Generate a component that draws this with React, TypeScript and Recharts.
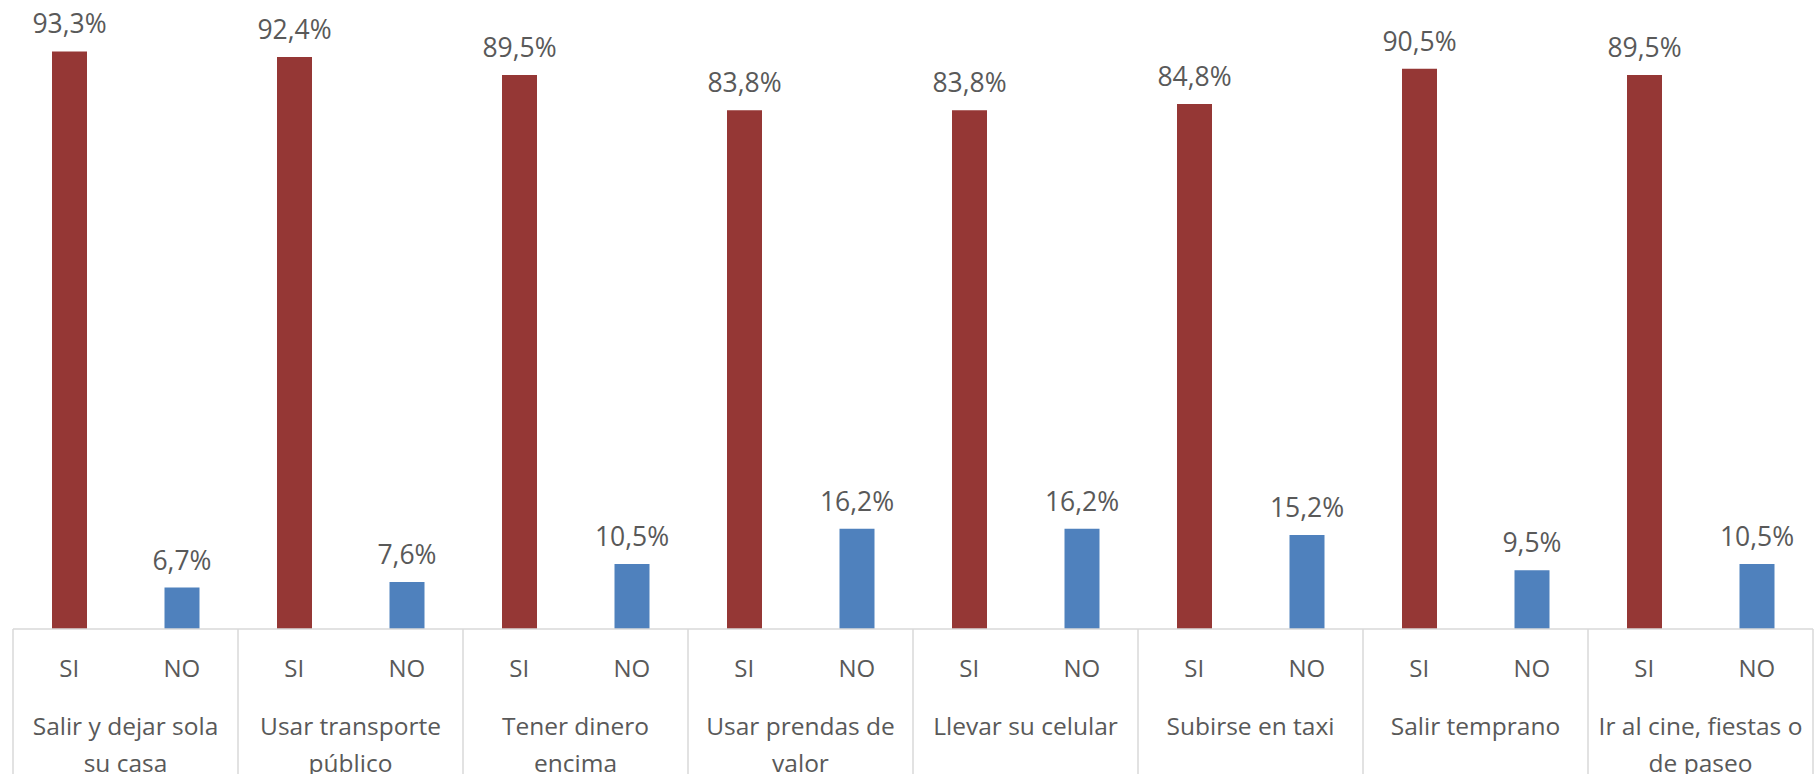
import { Bar, BarChart, Cell, LabelList, XAxis, YAxis } from "recharts"

const groups = [
  "Salir y dejar sola su casa",
  "Usar transporte público",
  "Tener dinero encima",
  "Usar prendas de valor",
  "Llevar su celular",
  "Subirse en taxi",
  "Salir temprano",
  "Ir al cine, fiestas o de paseo",
]
const groupLines = [
  ["Salir y dejar sola", "su casa"],
  ["Usar transporte", "público"],
  ["Tener dinero", "encima"],
  ["Usar prendas de", "valor"],
  ["Llevar su celular"],
  ["Subirse en taxi"],
  ["Salir temprano"],
  ["Ir al cine, fiestas o", "de paseo"],
]
const answers = ["SI", "NO"]
const siValues = [93.3, 92.4, 89.5, 83.8, 83.8, 84.8, 90.5, 89.5]
const noValues = [6.7, 7.6, 10.5, 16.2, 16.2, 15.2, 9.5, 10.5]

const COLORS: Record<string, string> = { SI: "#953735", NO: "#4F81BD" }
const TEXT = "#595959"
const GRID = "#D9D9D9"
const FONT = "'Open Sans', sans-serif"

const W = 1820
const H = 774
const MARGIN = { top: 10, right: 7, left: 13, bottom: 0 }
const AXIS_H = 145
const PLOT_W = W - MARGIN.left - MARGIN.right

const data = groups.flatMap((g, i) =>
  answers.map((a) => ({
    key: `${i}-${a}`,
    group: g,
    answer: a,
    value: a === "SI" ? siValues[i] : noValues[i],
  }))
)

const slot = PLOT_W / data.length

const fmt = (v: number) => `${v.toFixed(1).replace(".", ",")}%`

function CategoryTick(props: any) {
  const { x, y, payload } = props
  const idx = payload.index as number
  const row = data[idx]
  const groupIdx = Math.floor(idx / 2)
  const first = idx % 2 === 0
  const bottom = y + AXIS_H
  return (
    <g>
      <text x={x} y={y + 48} textAnchor="middle" fill={TEXT} fontSize={24} fontFamily={FONT}>
        {row.answer}
      </text>
      {first && (
        <>
          <line x1={x - slot / 2} x2={x - slot / 2} y1={y} y2={bottom} stroke={GRID} strokeWidth={1.5} />
          {groupLines[groupIdx].map((line, li) => (
            <text
              key={li}
              x={x + slot / 2}
              y={y + 106 + li * 37}
              textAnchor="middle"
              fill={TEXT}
              fontSize={24.5}
              fontFamily={FONT}
            >
              {line}
            </text>
          ))}
        </>
      )}
      {idx === data.length - 1 && (
        <line x1={x + slot / 2} x2={x + slot / 2} y1={y} y2={bottom} stroke={GRID} strokeWidth={1.5} />
      )}
    </g>
  )
}

export default function App() {
  return (
    <div style={{ position: "absolute", left: 0, top: 0, background: "#fff" }}>
      <BarChart width={W} height={H} data={data} margin={MARGIN} style={{ fontFamily: FONT }}>
        <XAxis
          dataKey="key"
          height={AXIS_H}
          interval={0}
          tickLine={false}
          tickSize={0}
          tickMargin={0}
          axisLine={{ stroke: GRID, strokeWidth: 1.5 }}
          tick={<CategoryTick />}
        />
        <YAxis hide domain={[0, 100]} />
        <Bar dataKey="value" barSize={35} isAnimationActive={false}>
          {data.map((d) => (
            <Cell key={d.key} fill={COLORS[d.answer]} />
          ))}
          <LabelList
            dataKey="value"
            position="top"
            offset={18}
            formatter={(v: any) => fmt(Number(v))}
            fill={TEXT}
            fontSize={26.5}
            fontFamily={FONT}
          />
        </Bar>
      </BarChart>
    </div>
  )
}
